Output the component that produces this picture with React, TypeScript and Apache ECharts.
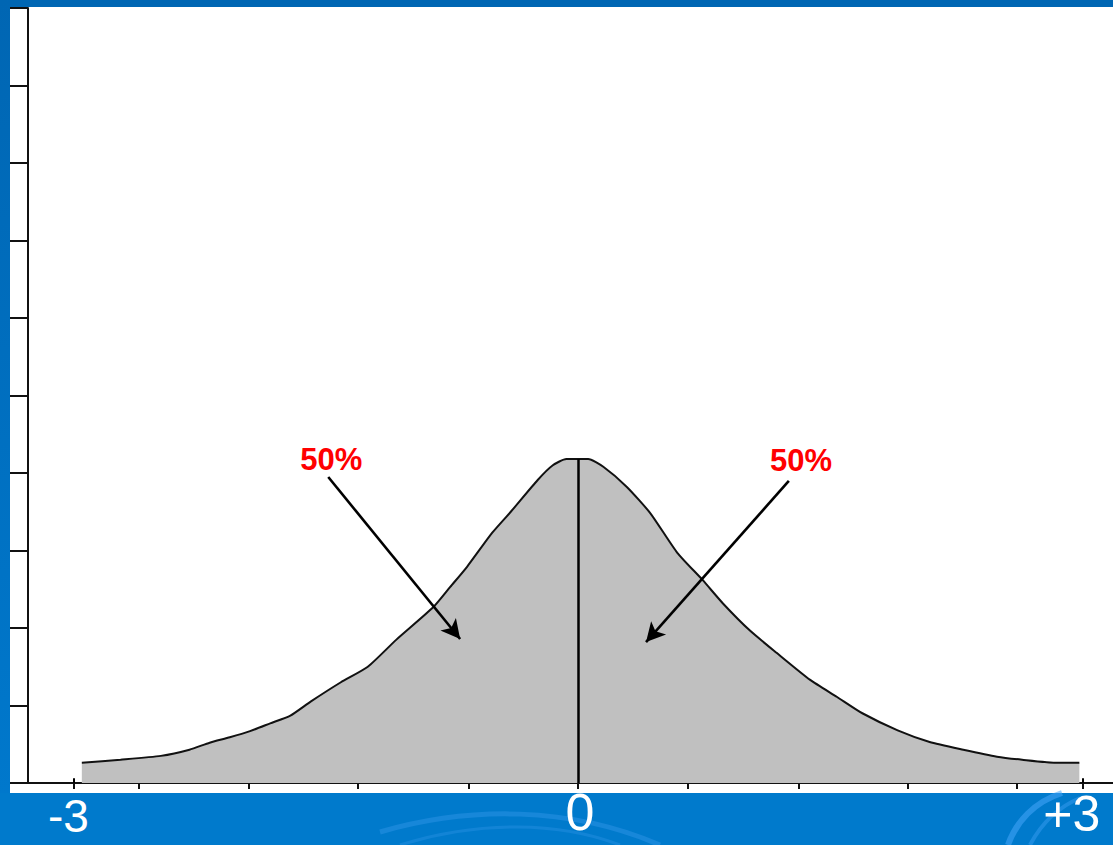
import React, { useEffect, useRef } from "react";
import * as echarts from "echarts";

// Curve (x in standard deviations, y in axis tick units)
const curveX = [-2.95, -2.72, -2.48, -2.31, -2.19, -2.07, -1.95, -1.83, -1.71, -1.59, -1.41, -1.25, -1.08, -0.86, -0.76, -0.66, -0.51, -0.4, -0.24, -0.15, -0.07, 0, 0.06, 0.15, 0.29, 0.43, 0.59, 0.74, 0.86, 1.02, 1.18, 1.38, 1.54, 1.69, 1.9, 2.09, 2.29, 2.49, 2.64, 2.85, 2.98];
const curveY = [0.26, 0.3, 0.35, 0.43, 0.52, 0.59, 0.67, 0.77, 0.87, 1.05, 1.3, 1.5, 1.85, 2.27, 2.53, 2.79, 3.23, 3.5, 3.91, 4.1, 4.18, 4.18, 4.18, 4.08, 3.82, 3.48, 2.97, 2.62, 2.32, 1.97, 1.68, 1.33, 1.11, 0.9, 0.68, 0.53, 0.43, 0.34, 0.3, 0.26, 0.26];

// Axis ticks and labels
const xTickValues = [-3, -2.61, -1.96, -1.31, -0.65, 0, 0.65, 1.31, 1.96, 2.61, 3];
const xLabelValues = [-3, 0, 3];
const xLabelTexts = ["-3", "0", "+3"];
const xMin = -3.27;
const xMax = 3.18;
const yMin = 0;
const yMax = 10;
const yInterval = 1;

// Median line and annotations
const medianX = 0;
const peakY = 4.18;
const annotationTexts = ["50%", "50%"];
const annotationPoints = [
  [-1.467, 4.168],
  [1.325, 4.155],
];
const arrowStarts = [
  [-1.485, 3.948],
  [1.253, 3.897],
];
const arrowEnds = [
  [-0.701, 1.858],
  [0.404, 1.819],
];

const FONT = "'Liberation Sans', Arial, sans-serif";

export default function App() {
  const ref = useRef<HTMLDivElement>(null);

  useEffect(() => {
    document.body.style.margin = "0";
    if (!ref.current) return;
    const chart = echarts.init(ref.current, undefined, { renderer: "svg" });
    const richKeys = ["a", "b", "c"];

    const markData: any[] = [
      [
        { coord: [medianX, 0], symbol: "none" },
        { coord: [medianX, peakY], symbol: "none" },
      ],
      [
        { coord: [xTickValues[0], 0], symbol: "none", lineStyle: { width: 2 } },
        { coord: [xTickValues[0], 0.06], symbol: "none" },
      ],
      [
        { coord: [xTickValues[xTickValues.length - 1], 0], symbol: "none", lineStyle: { width: 2 } },
        { coord: [xTickValues[xTickValues.length - 1], 0.06], symbol: "none" },
      ],
    ];
    arrowStarts.forEach((s, i) => {
      markData.push([
        { coord: s, symbol: "none", lineStyle: { width: 2.6 } },
        { coord: arrowEnds[i], symbol: "arrow", symbolSize: [15, 19] },
      ]);
    });

    chart.setOption({
      animation: false,
      backgroundColor: "transparent",
      grid: { left: 28, right: 0, top: 8, bottom: 62, containLabel: false, outerBoundsMode: "none" },
      graphic: [
        {
          type: "bezierCurve",
          z: -10,
          silent: true,
          shape: { x1: 380, y1: 832, cpx1: 470, cpy1: 806, cpx2: 570, cpy2: 806, x2: 660, y2: 845 },
          style: { stroke: "rgba(90,175,255,0.25)", lineWidth: 5, fill: null },
        },
        {
          type: "bezierCurve",
          z: -10,
          silent: true,
          shape: { x1: 400, y1: 845, cpx1: 480, cpy1: 820, cpx2: 560, cpy2: 822, x2: 620, y2: 845 },
          style: { stroke: "rgba(90,175,255,0.2)", lineWidth: 3, fill: null },
        },
        {
          type: "bezierCurve",
          z: -10,
          silent: true,
          shape: { x1: 1008, y1: 845, cpx1: 1016, cpy1: 822, cpx2: 1034, cpy2: 802, x2: 1062, y2: 793 },
          style: { stroke: "rgba(70,165,250,0.55)", lineWidth: 6, fill: null },
        },
        {
          type: "bezierCurve",
          z: -10,
          silent: true,
          shape: { x1: 1030, y1: 845, cpx1: 1040, cpy1: 826, cpx2: 1056, cpy2: 808, x2: 1080, y2: 798 },
          style: { stroke: "rgba(70,165,250,0.4)", lineWidth: 4, fill: null },
        },
      ],
      xAxis: {
        type: "value",
        min: xMin,
        max: xMax,
        axisLine: { show: true, onZero: false, lineStyle: { color: "#111", width: 2 } },
        axisTick: {
          show: true,
          customValues: xTickValues,
          length: 6,
          lineStyle: { color: "#111", width: 2 },
        },
        splitLine: { show: false },
        axisLabel: {
          show: true,
          customValues: xLabelValues,
          margin: 4,
          color: "#ffffff",
          fontFamily: FONT,
          formatter: (v: number) => {
            const i = xLabelValues.findIndex((x) => Math.abs(x - v) < 1e-6);
            if (i < 0) return "";
            return "{" + richKeys[i] + "|" + xLabelTexts[i] + "}";
          },
          rich: {
            a: { fontSize: 46, lineHeight: 40, color: "#fff", fontFamily: FONT, padding: [17, 10, 0, 0] },
            b: { fontSize: 52, lineHeight: 44, color: "#fff", fontFamily: FONT, padding: [5, 0, 0, 4] },
            c: { fontSize: 50, lineHeight: 40, color: "#fff", fontFamily: FONT, padding: [13, 22, 0, 0] },
          },
        },
      },
      yAxis: {
        type: "value",
        min: yMin,
        max: yMax,
        interval: yInterval,
        axisLine: { show: true, onZero: false, lineStyle: { color: "#111", width: 2 } },
        axisTick: { show: true, length: 18, lineStyle: { color: "#111", width: 2 } },
        axisLabel: { show: false },
        splitLine: { show: false },
      },
      series: [
        {
          type: "line",
          name: "distribution",
          data: curveX.map((x, i) => [x, curveY[i]]),
          showSymbol: false,
          smooth: 0.2,
          lineStyle: { color: "#111", width: 2 },
          areaStyle: { color: "#C0C0C0", opacity: 1 },
          markLine: {
            silent: true,
            symbol: ["none", "none"],
            label: { show: false },
            lineStyle: { color: "#000", width: 2.5, type: "solid" },
            emphasis: { disabled: true },
            data: markData,
          },
          z: 2,
        },
        {
          type: "scatter",
          name: "annotations",
          data: annotationPoints.map((p, i) => ({ value: p, name: annotationTexts[i] })),
          symbolSize: 0,
          silent: true,
          itemStyle: { color: "#FF0000", opacity: 1 },
          label: {
            show: true,
            position: "inside",
            formatter: (p: any) => p.name,
            color: "#FF0000",
            opacity: 1,
            textBorderWidth: 0,
            fontWeight: "bold",
            fontSize: 31,
            fontFamily: FONT,
          },
          z: 5,
        },
      ],
    });
    return () => chart.dispose();
  }, []);

  return (
    <div
      style={{
        position: "fixed",
        left: 0,
        top: 0,
        width: 1113,
        height: 845,
        background: "#007ACC",
        overflow: "hidden",
      }}
    >
      <div style={{ position: "absolute", left: 0, top: 0, width: 1113, height: 7, background: "#0066B3" }} />
      <div
        style={{
          position: "absolute",
          left: 0,
          top: 0,
          width: 10,
          height: 793,
          background: "linear-gradient(#0066B3, #0078CC)",
        }}
      />
      <div style={{ position: "absolute", left: 10, top: 7, width: 1103, height: 786, background: "#ffffff" }} />
      <div ref={ref} style={{ position: "absolute", left: 0, top: 0, width: 1113, height: 845 }} />
    </div>
  );
}
